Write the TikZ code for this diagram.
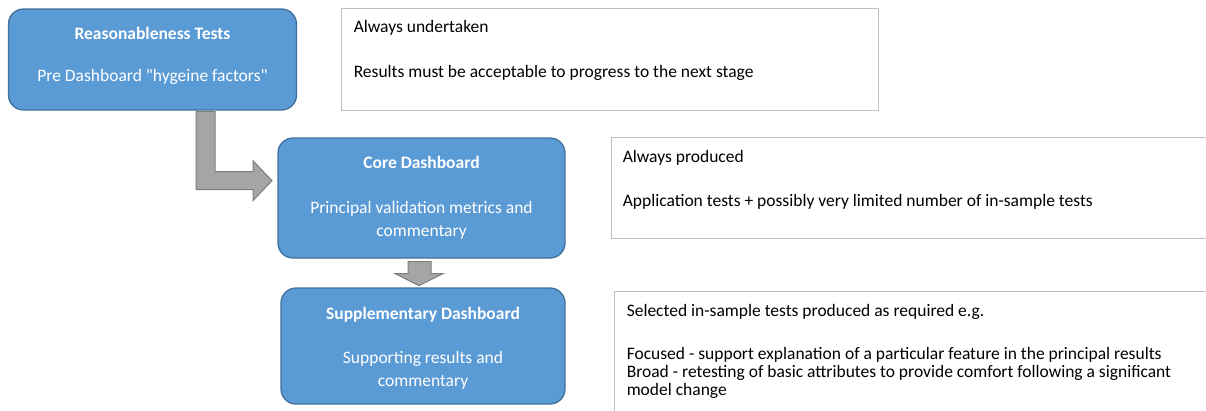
\documentclass[tikz,border=0pt]{standalone}
\usepackage{fontspec}
\newfontfamily\officefont{Carlito}
\usetikzlibrary{positioning}
\definecolor{StageBlue}{HTML}{5B9BD5}
\definecolor{StageEdge}{HTML}{41719C}
\definecolor{ArrowGray}{HTML}{A5A5A5}
\definecolor{ArrowEdge}{HTML}{7F7F7F}
\definecolor{NoteEdge}{HTML}{BFBFBF}

\begin{document}
\begin{tikzpicture}[x=1pt, y=1pt,
    stage/.style={draw=StageEdge, line width=1.3pt, fill=StageBlue, rounded corners=15pt, text=white, align=center, inner sep=0pt, font=\officefont\fontsize{17.5}{23}\selectfont},
    notebox/.style={draw=NoteEdge, line width=0.9pt, fill=white, inner sep=0pt},
    notetext/.style={anchor=north west, align=left, inner sep=0pt, font=\officefont\fontsize{17.5}{18}\selectfont},
    blockarrow/.style={draw=ArrowEdge, line width=1pt, fill=ArrowGray, line join=miter}]
    \useasboundingbox (0,0) rectangle (1206,-410);
    \clip (0,0) rectangle (1206,-410);

    % Stage boxes
    \node[stage, minimum width=288, minimum height=101] (reason) at (152.5,-59.5)
        {\textbf{Reasonableness Tests}\\[19pt]Pre Dashboard "hygeine factors"\rule[-11pt]{0pt}{0pt}};
    \node[stage, minimum width=287, minimum height=120] (core) at (421.5,-198)
        {\textbf{Core Dashboard}\\[22pt]Principal validation metrics and\\commentary};
    \node[stage, minimum width=284, minimum height=116] (supp) at (423,-346)
        {\rule{0pt}{17pt}\textbf{Supplementary Dashboard}\\[21pt]Supporting results and\\commentary};

    % Notes beside each stage
    \node[notebox, minimum width=537, minimum height=102] (note1) at (609.5,-59) {};
    \node[notebox, minimum width=599, minimum height=101] (note2) at (910.5,-187.5) {};
    \node[notebox, minimum width=596, minimum height=124] (note3) at (912,-353) {};

    \node[notetext] (text1) at ([shift={(13,-13)}]note1.north west)
        {Always undertaken\\[27pt]Results must be acceptable to progress to the next stage};
    \node[notetext] (text2) at ([shift={(12,-14)}]note2.north west)
        {Always produced\\[26pt]Application tests + possibly very limited number of in-sample tests};
    \node[notetext] (text3) at ([shift={(13,-14)}]note3.north west)
        {Selected in-sample tests produced as required e.g.\\[25pt]
         Focused - support explanation of a particular feature in the principal results\\
         Broad - retesting of basic attributes to provide comfort following a significant\\
         model change};

    % Block arrows between stages
    \draw[blockarrow] ([xshift=43.5,yshift=-1]reason.south) -- ++(19,0) -- ++(0,-60) -- ++(38,0)
        -- ++(0,11) -- ++(19,-20) -- ++(-19,-20) -- ++(0,11) -- ++(-57,0) -- cycle;
    \draw[blockarrow] ([xshift=-13.5,yshift=-3]core.south) -- ++(23,0) -- ++(0,-12) -- ++(12,0)
        -- ++(-24,-12) -- ++(-24,12) -- ++(13,0) -- cycle;
\end{tikzpicture}
\end{document}
